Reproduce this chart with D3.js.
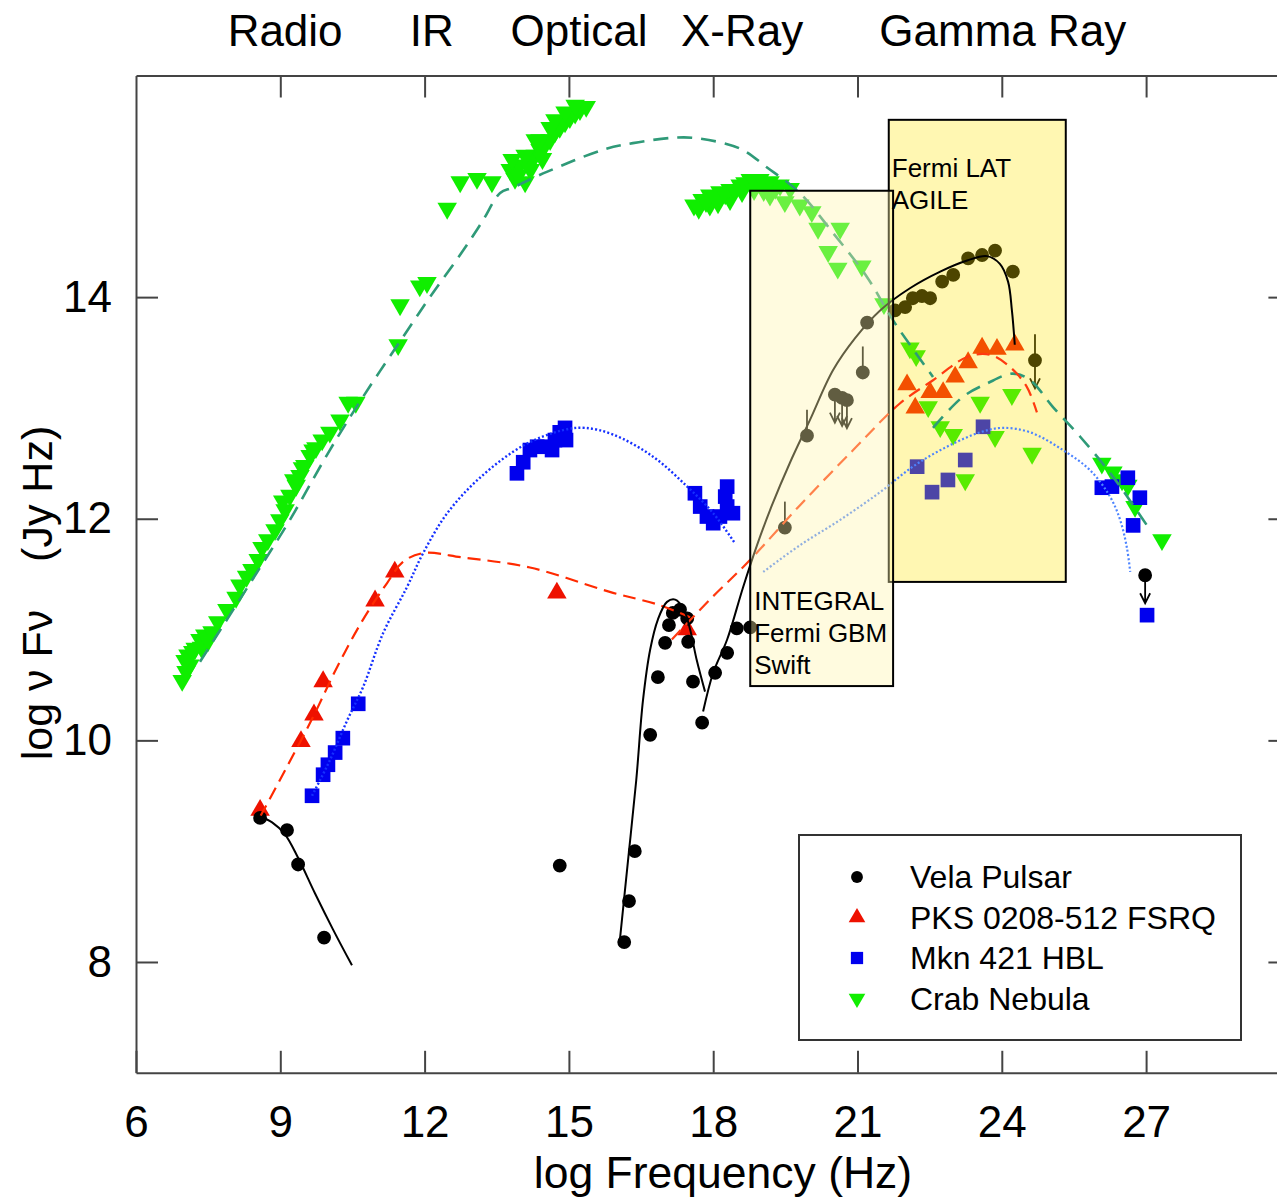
<!DOCTYPE html>
<html lang="en">
<head>
    <meta charset="UTF-8">
    <title>SED</title>
    <script type="text/javascript" src="https://cdnjs.cloudflare.com/ajax/libs/d3/7.8.5/d3.min.js"></script>
    <style>
        body { margin: 0; background: #fff; }
        text { font-family: "Liberation Sans", Arial, sans-serif; fill: #000; }
    </style>
</head>
<body>
<div id="chart"></div>
<script>
    // values: [log frequency, log nuFnu]
    var velaPulsar = [
        [8.58, 9.30], [9.14, 9.19], [9.37, 8.88], [9.91, 8.22], [14.81, 8.87],
        [16.15, 8.18], [16.25, 8.55], [16.37, 9.00], [16.69, 10.05], [16.85, 10.57],
        [17.00, 10.88], [17.08, 11.04], [17.16, 11.15], [17.31, 11.18], [17.46, 11.10],
        [17.48, 10.89], [17.58, 10.53], [17.77, 10.16], [18.04, 10.61], [18.29, 10.79],
        [18.49, 11.01], [18.77, 11.02], [19.49, 11.92], [19.95, 12.75], [20.53, 13.12],
        [20.68, 13.09], [20.78, 13.07], [21.11, 13.32], [21.20, 13.77], [21.78, 13.88],
        [21.99, 13.91], [22.15, 13.99], [22.34, 14.01], [22.51, 13.99], [22.76, 14.14],
        [22.99, 14.20], [23.30, 14.35], [23.59, 14.38], [23.86, 14.42], [24.23, 14.23],
        [24.69, 13.43], [26.98, 11.49]
    ];
    var velaUpperLimits = [[20.53, 13.12], [20.68, 13.09], [20.78, 13.07], [24.69, 13.43], [26.98, 11.49]];
    var velaErrUp = [[19.49, 11.92], [19.95, 12.75], [21.11, 13.32], [24.69, 13.43]];

    var pks0208 = [
        [8.58, 9.37], [9.43, 9.99], [9.70, 10.23], [9.89, 10.53], [10.97, 11.26],
        [11.38, 11.52], [14.75, 11.33], [17.46, 11.00], [22.03, 13.21], [22.20, 13.00],
        [22.51, 13.14], [22.78, 13.14], [23.03, 13.28], [23.30, 13.41], [23.59, 13.54],
        [23.90, 13.53], [24.27, 13.57]
    ];

    var mkn421 = [
        [9.66, 9.50], [9.89, 9.69], [9.99, 9.78], [10.14, 9.89], [10.30, 10.02],
        [10.62, 10.33], [13.92, 12.41], [14.05, 12.51], [14.19, 12.62], [14.34, 12.65],
        [14.50, 12.65], [14.65, 12.62], [14.71, 12.71], [14.81, 12.78], [14.92, 12.82],
        [14.94, 12.71], [17.62, 12.23], [17.73, 12.11], [17.87, 12.02], [18.00, 11.96],
        [18.14, 12.02], [18.29, 12.29], [18.25, 12.20], [18.29, 12.11], [18.41, 12.05],
        [22.24, 12.47], [22.55, 12.24], [22.88, 12.35], [23.24, 12.53], [23.61, 12.83],
        [26.08, 12.28], [26.29, 12.29], [26.62, 12.37], [26.87, 12.19], [26.73, 11.94],
        [27.02, 11.13]
    ];

    var crabNebula = [
        [6.96, 10.54], [7.04, 10.62], [7.12, 10.68], [7.08, 10.77], [7.23, 10.83],
        [7.33, 10.91], [7.43, 10.95], [7.58, 10.98], [7.70, 11.07], [7.89, 11.18],
        [8.08, 11.29], [8.16, 11.40], [8.41, 11.54], [8.54, 11.63], [8.62, 11.74],
        [8.74, 11.81], [8.89, 11.90], [8.99, 11.99], [9.10, 12.08], [9.20, 12.21],
        [9.33, 12.30], [9.41, 12.39], [9.51, 12.48], [9.62, 12.57], [9.74, 12.64],
        [9.87, 12.71], [10.03, 12.78], [10.24, 12.89], [10.41, 13.05], [10.57, 13.05],
        [7.02, 10.72], [7.18, 10.80], [7.36, 10.84], [7.50, 10.90], [8.30, 11.48],
        [9.05, 12.16], [9.28, 12.35], [9.46, 12.46], [9.68, 12.62],
        [11.45, 13.57], [11.49, 13.93], [11.90, 14.10], [12.05, 14.13], [12.47, 14.80],
        [12.74, 15.04], [13.09, 15.07], [13.40, 15.04], [13.78, 15.15], [13.88, 15.07],
        [13.98, 15.19], [14.09, 15.04], [14.19, 15.24], [14.30, 15.28], [14.40, 15.33],
        [14.50, 15.37], [14.61, 15.42], [14.71, 15.49], [14.81, 15.53], [14.92, 15.58],
        [15.02, 15.62], [15.13, 15.66], [15.23, 15.69], [15.36, 15.72], [13.82, 15.24],
        [14.09, 15.28], [14.40, 15.42], [14.71, 15.60], [14.30, 15.42], [14.61, 15.53],
        [14.92, 15.67], [15.13, 15.73], [13.95, 15.10], [14.20, 15.15], [14.45, 15.25],
        [17.60, 14.83], [17.77, 14.88], [17.93, 14.92], [18.14, 14.95], [18.35, 14.97],
        [18.56, 15.01], [18.77, 15.06], [18.97, 15.06], [19.18, 15.04], [19.39, 15.01],
        [19.60, 14.98], [17.93, 14.83], [18.35, 14.88], [19.18, 14.92], [19.49, 14.86],
        [17.70, 14.80], [17.85, 14.86], [18.05, 14.90], [18.25, 14.93], [18.45, 14.97],
        [18.66, 15.03], [18.87, 15.03], [19.08, 15.01], [19.29, 14.98], [18.10, 14.85],
        [18.60, 14.95], [18.85, 14.97], [19.05, 14.96],
        [19.80, 14.83], [20.05, 14.77], [20.18, 14.62], [20.64, 14.62], [20.39, 14.41],
        [20.59, 14.26], [21.09, 14.28], [21.55, 13.94], [22.09, 13.54], [22.22, 13.47],
        [22.47, 13.01], [22.72, 12.83], [22.99, 12.76], [23.24, 12.35], [23.55, 13.05],
        [23.86, 12.74], [24.21, 13.12], [24.63, 12.59], [26.08, 12.50], [26.31, 12.42],
        [26.50, 12.35], [26.62, 12.30], [26.77, 12.11], [27.33, 11.81]
    ];

    // model curves
    var velaRadioCurve = [[8.54, 9.32], [8.83, 9.26], [9.10, 9.15], [9.37, 8.94], [9.72, 8.62], [10.10, 8.29], [10.49, 7.97]];
    var velaOpticalCurve = [[16.06, 8.20], [16.23, 8.92], [16.40, 9.64], [16.54, 10.36], [16.69, 10.82], [16.85, 11.09],
        [17.04, 11.25], [17.21, 11.27], [17.39, 11.18], [17.52, 11.00], [17.66, 10.72], [17.83, 10.44]];
    var velaHighCurve = [[17.79, 10.26], [18.00, 10.61], [18.29, 10.91], [18.62, 11.38], [18.91, 11.76], [19.22, 12.12],
        [19.60, 12.51], [20.01, 12.89], [20.49, 13.34], [20.95, 13.63], [21.47, 13.88], [22.09, 14.08], [22.72, 14.23],
        [23.28, 14.33], [23.69, 14.37], [23.96, 14.30], [24.13, 14.14], [24.21, 13.88], [24.27, 13.57]];
    var pksLowCurve = [[8.58, 9.31], [9.10, 9.73], [9.68, 10.21], [10.18, 10.66], [10.72, 11.09], [11.22, 11.42],
        [11.55, 11.61], [11.97, 11.69], [12.80, 11.65], [14.19, 11.56], [15.85, 11.34], [16.89, 11.22], [17.52, 11.11]];
    var pksHighCurve = [[17.14, 10.91], [17.93, 11.27], [18.77, 11.63], [19.80, 12.12], [20.91, 12.62], [21.88, 13.04],
        [22.57, 13.25], [23.28, 13.46], [23.75, 13.48], [24.17, 13.37], [24.52, 13.19], [24.73, 12.96]];
    var mknLowCurve = [[9.66, 9.50], [10.03, 9.82], [10.39, 10.18], [10.72, 10.48], [11.14, 10.97], [11.63, 11.38],
        [11.97, 11.69], [12.47, 12.05], [13.15, 12.37], [14.05, 12.66], [14.88, 12.80], [15.33, 12.82], [15.92, 12.76],
        [16.75, 12.56], [17.46, 12.29], [18.00, 12.05], [18.45, 11.78]];
    var mknHighCurve = [[19.04, 11.52], [19.80, 11.76], [20.64, 11.99], [21.47, 12.24], [22.15, 12.47], [22.86, 12.65],
        [23.55, 12.78], [24.02, 12.82], [24.59, 12.78], [25.27, 12.62], [25.83, 12.44], [26.25, 12.20], [26.46, 11.99],
        [26.60, 11.74], [26.67, 11.52]];
    var crabLowCurve = [[7.33, 10.71], [7.95, 11.13], [8.58, 11.56], [9.20, 11.99], [10.03, 12.62], [10.72, 13.10],
        [11.55, 13.64], [12.11, 14.00], [12.80, 14.42], [13.21, 14.69], [13.57, 14.94], [13.84, 14.99], [14.54, 15.13],
        [15.71, 15.33], [16.33, 15.39], [17.25, 15.44], [17.73, 15.43], [18.56, 15.34], [19.12, 15.17], [19.80, 14.94],
        [20.49, 14.58], [21.20, 14.18], [21.74, 13.79], [22.57, 13.28]];
    var crabHighCurve = [[22.57, 12.82], [23.19, 13.10], [23.69, 13.22], [24.23, 13.31], [24.59, 13.25], [25.06, 13.01],
        [25.63, 12.74], [26.31, 12.38], [27.08, 11.90]];

    var xTicks = [6, 9, 12, 15, 18, 21, 24, 27];
    var yTicks = [8, 10, 12, 14];
    var bandNames = ["Radio", "IR", "Optical", "X-Ray", "Gamma Ray"];
    var bandCenters = [9.1, 12.15, 15.21, 18.6, 24.02];

    // detector regions [x0, x1, y0, y1] in axis units
    var latBox = [21.65, 25.33, 11.43, 15.60];
    var latLines = ["Fermi LAT", "AGILE"];
    var gbmBox = [18.77, 21.74, 10.49, 14.96];
    var gbmLines = ["INTEGRAL", "Fermi GBM", "Swift"];

    var legendNames = ["Vela Pulsar", "PKS 0208-512 FSRQ", "Mkn 421 HBL", "Crab Nebula"];

    var width = 1277, height = 1197;

    var x = d3.scaleLinear().domain([6, 30]).range([136, 1290.4]);
    var y = d3.scaleLinear().domain([7, 16]).range([1072.8, 75.5]);

    var svg = d3.select("#chart").append("svg")
        .attr("width", width)
        .attr("height", height);

    var sym = {
        circle: d3.symbol().type(d3.symbolCircle).size(150),
        up: d3.symbol().type(d3.symbolTriangle).size(165),
        square: d3.symbol().type(d3.symbolSquare).size(215)
    };

    // markers
    var marks = svg.append("g");

    function drawPoints(data, path, color, rot) {
        marks.append("g").selectAll("path")
            .data(data)
            .enter().append("path")
            .attr("d", path)
            .attr("fill", color)
            .attr("transform", function(d) {
                return "translate(" + x(d[0]) + "," + y(d[1]) + ")" + (rot ? " rotate(180)" : "");
            });
    }

    drawPoints(crabNebula, sym.up, "#10ee00", true);
    drawPoints(mkn421, sym.square, "#0000ee", false);
    drawPoints(pks0208, sym.up, "#ee1100", false);
    drawPoints(velaPulsar, sym.circle, "#000", false);

    marks.append("g").selectAll("path")
        .data(velaUpperLimits)
        .enter().append("path")
        .attr("d", function(d) {
            var cx = x(d[0]), cy = y(d[1]);
            return "M" + cx + "," + (cy + 6) + "V" + (cy + 28)
                + "M" + (cx - 5) + "," + (cy + 18) + "L" + cx + "," + (cy + 28) + "L" + (cx + 5) + "," + (cy + 18);
        })
        .attr("stroke", "#000")
        .attr("stroke-width", 1.8)
        .attr("fill", "none");

    marks.append("g").selectAll("line")
        .data(velaErrUp)
        .enter().append("line")
        .attr("x1", function(d) { return x(d[0]); })
        .attr("x2", function(d) { return x(d[0]); })
        .attr("y1", function(d) { return y(d[1]) - 5; })
        .attr("y2", function(d) { return y(d[1]) - 26; })
        .attr("stroke", "#000")
        .attr("stroke-width", 1.8);

    function drawBox(b, fill, opacity) {
        svg.append("rect")
            .attr("x", x(b[0]))
            .attr("y", y(b[3]))
            .attr("width", x(b[1]) - x(b[0]))
            .attr("height", y(b[2]) - y(b[3]))
            .attr("fill", fill)
            .attr("fill-opacity", opacity)
            .attr("stroke", "#000")
            .attr("stroke-width", 2);
    }

    drawBox(latBox, "rgb(255,230,0)", 0.3);

    // model curves
    var line = d3.line()
        .x(function(d) { return x(d[0]); })
        .y(function(d) { return y(d[1]); })
        .curve(d3.curveCatmullRom);

    var curves = svg.append("g").attr("fill", "none");
    function drawCurve(data, color, w, dash) {
        curves.append("path")
            .datum(data)
            .attr("d", line)
            .attr("stroke", color)
            .attr("stroke-width", w)
            .attr("stroke-dasharray", dash);
    }

    drawCurve(crabLowCurve, "#2f9a78", 2.6, "15,9");
    drawCurve(crabHighCurve, "#2f9a78", 2.6, "15,9");
    drawCurve(mknLowCurve, "#1530ff", 2.4, "2,2.2");
    drawCurve(mknHighCurve, "#4d84ff", 2.2, "2,2.2");
    drawCurve(pksLowCurve, "#ff2a00", 2.2, "13,7");
    drawCurve(pksHighCurve, "#ff3a10", 2.2, "13,7");
    drawCurve(velaRadioCurve, "#000", 2, null);
    drawCurve(velaOpticalCurve, "#000", 2, null);
    drawCurve(velaHighCurve, "#000", 2, null);

    drawBox(gbmBox, "rgb(255,245,170)", 0.38);

    svg.append("g").selectAll("text")
        .data(latLines)
        .enter().append("text")
        .attr("x", x(latBox[0]) + 3)
        .attr("y", function(d, i) { return y(latBox[3]) + 57 + i * 32; })
        .style("font-size", "26px")
        .text(function(d) { return d; });

    svg.append("g").selectAll("text")
        .data(gbmLines)
        .enter().append("text")
        .attr("x", x(gbmBox[0]) + 4)
        .attr("y", function(d, i) { return y(gbmBox[2]) - 76 + i * 32; })
        .style("font-size", "26px")
        .text(function(d) { return d; });

    // axes, ticks inward on all four sides
    function styleAxis(g) {
        g.selectAll("path, line").attr("stroke", "#444").attr("stroke-width", 2);
        g.selectAll("text").style("font-size", "44px").attr("fill", "#000")
            .style("font-family", "'Liberation Sans', Arial, sans-serif");
    }

    svg.append("g")
        .attr("transform", "translate(0," + y(7) + ")")
        .call(d3.axisBottom(x).tickValues(xTicks).tickSizeInner(-22).tickSizeOuter(0).tickPadding(33))
        .call(styleAxis);

    svg.append("g")
        .attr("transform", "translate(0," + y(16) + ")")
        .call(d3.axisTop(x).tickValues(xTicks.slice(1)).tickSizeInner(-22).tickSizeOuter(0).tickFormat(""))
        .call(styleAxis);

    svg.append("g")
        .attr("transform", "translate(" + x(6) + ",0)")
        .call(d3.axisLeft(y).tickValues(yTicks).tickSizeInner(-22).tickSizeOuter(0).tickPadding(24))
        .call(styleAxis);

    svg.append("g")
        .attr("transform", "translate(" + x(30) + ",0)")
        .call(d3.axisRight(y).tickValues(yTicks).tickSizeInner(-22).tickSizeOuter(0).tickFormat(""))
        .call(styleAxis);

    // titles
    svg.append("text")
        .attr("x", 723)
        .attr("y", 1188)
        .attr("text-anchor", "middle")
        .style("font-size", "44.5px")
        .text("log Frequency (Hz)");

    svg.append("text")
        .attr("transform", "translate(52,593) rotate(-90)")
        .attr("text-anchor", "middle")
        .style("font-size", "43px")
        .style("white-space", "pre")
        .text("log \u03bd F\u03bd    (Jy Hz)");

    svg.append("g").selectAll("text")
        .data(bandNames)
        .enter().append("text")
        .attr("x", function(d, i) { return x(bandCenters[i]); })
        .attr("y", 46)
        .attr("text-anchor", "middle")
        .style("font-size", "44px")
        .text(function(d) { return d; });

    // legend
    var legend = svg.append("g").attr("transform", "translate(799,835)");
    legend.append("rect")
        .attr("width", 442)
        .attr("height", 205)
        .attr("fill", "#fff")
        .attr("stroke", "#333")
        .attr("stroke-width", 2);

    var legendSyms = [
        {p: d3.symbol().type(d3.symbolCircle).size(110)(), c: "#000", r: 0},
        {p: d3.symbol().type(d3.symbolTriangle).size(120)(), c: "#ee1100", r: 0},
        {p: d3.symbol().type(d3.symbolSquare).size(150)(), c: "#0000ee", r: 0},
        {p: d3.symbol().type(d3.symbolTriangle).size(120)(), c: "#10ee00", r: 180}
    ];

    var entry = legend.selectAll(".entry")
        .data(legendNames)
        .enter().append("g")
        .attr("transform", function(d, i) { return "translate(0," + (42 + i * 40.5) + ")"; });

    entry.append("path")
        .attr("d", function(d, i) { return legendSyms[i].p; })
        .attr("fill", function(d, i) { return legendSyms[i].c; })
        .attr("transform", function(d, i) { return "translate(58,0) rotate(" + legendSyms[i].r + ")"; });

    entry.append("text")
        .attr("x", 111)
        .attr("dy", "0.35em")
        .style("font-size", "32px")
        .text(function(d) { return d; });
</script>
</body>
</html>
